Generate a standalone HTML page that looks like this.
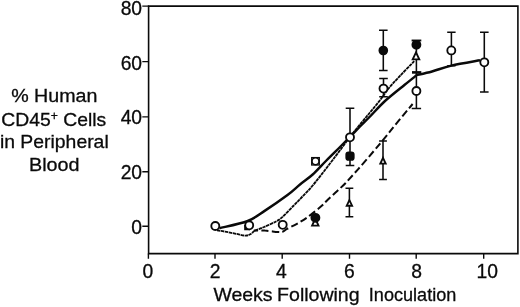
<!DOCTYPE html>
<html><head><meta charset="utf-8">
<style>
html,body{margin:0;padding:0;background:#fff;}
body{width:520px;height:307px;overflow:hidden;font-family:"Liberation Sans",sans-serif;}
svg{display:block;will-change:transform;}
text{font-family:"Liberation Sans",sans-serif;fill:#0a0a0a;stroke:#0a0a0a;stroke-width:0.3px;}
</style></head><body>
<svg width="520" height="307" viewBox="0 0 520 307">
<rect width="520" height="307" fill="#fff"/>
<g stroke="#0a0a0a" stroke-width="1.6" fill="none" stroke-linecap="butt">
<path d="M148.6,6.15 H517.9 V253.6 H148.6 Z"/>
</g>
<g stroke="#0a0a0a" stroke-width="1.4" fill="none" stroke-linecap="butt">
<path d="M142.3,6.15H149 M142.3,61.6H149 M142.3,116.9H149 M142.3,171.7H149 M142.3,226.3H149"/>
<path d="M148.4,253.6V258.7 M215,253.6V258.7 M282.2,253.6V258.7 M349.5,253.6V258.7 M416.2,253.6V258.7 M483.7,253.6V258.7"/>
</g>
<g font-size="19.3" text-anchor="end">
<text x="142.1" y="14.9">80</text>
<text x="142.1" y="69.5">60</text>
<text x="142.1" y="123.8">40</text>
<text x="142.1" y="179">20</text>
<text x="142.1" y="233.9">0</text>
</g>
<g font-size="19.3" text-anchor="middle">
<text x="147.8" y="277.5">0</text>
<text x="215.1" y="277.5">2</text>
<text x="281.3" y="277.5">4</text>
<text x="349.4" y="277.5">6</text>
<text x="416.5" y="277.5">8</text>
<text x="487.3" y="277.5">10</text>
</g>
<g font-size="19">
<text x="213.4" y="301.3" textLength="59.2" lengthAdjust="spacingAndGlyphs">Weeks</text>
<text x="277.1" y="301.3" textLength="82.5" lengthAdjust="spacingAndGlyphs">Following</text>
<text x="368.8" y="301.3" textLength="87.5" lengthAdjust="spacingAndGlyphs">Inoculation</text>
</g>
<g font-size="19" text-anchor="middle">
<text transform="translate(54.3,102.2) scale(1.035,1)">% Human</text>
<text transform="translate(53.8,125.7) scale(1.018,1)">CD45<tspan font-size="12" dy="-6">+</tspan><tspan dy="6"> Cells</tspan></text>
<text transform="translate(54.3,148) scale(1.02,1)">in Peripheral</text>
<text transform="translate(54.3,170.6) scale(1.04,1)">Blood</text>
</g>
<g fill="none" stroke="#0a0a0a" stroke-linejoin="round" stroke-linecap="butt">
<path stroke-width="2.45" d="M219.4,228.2 C224.1,227.0 240.1,223.9 247.7,221.0 C255.3,218.1 258.4,214.9 265.0,210.6 C271.6,206.3 281.7,199.3 287.5,195.0 C293.3,190.7 295.8,187.9 300.0,184.5 C304.2,181.1 308.3,178.5 312.7,174.5 C317.1,170.5 321.8,165.1 326.4,160.5 C330.9,155.9 336.1,150.9 340.0,147.0 C343.9,143.1 346.2,140.7 349.5,137.3 C352.8,133.9 356.6,130.0 360.0,126.5 C363.4,123.0 365.8,120.8 370.0,116.5 C374.2,112.2 379.3,106.2 385.0,101.0 C390.7,95.8 399.1,89.3 404.4,85.0 C409.7,80.7 414.6,76.8 416.6,75.1"/>
<path stroke-width="2.45" d="M416.6,75.1 C419.2,74.5 426.2,73.1 432.0,71.5 C437.8,69.9 443.4,67.5 451.4,65.6 C459.4,63.7 475.2,61.1 480.0,60.2"/>
<path stroke-width="1.85" stroke-dasharray="3.4 0.6" d="M217.0,230.3 C218.3,230.5 221.8,231.0 225.0,231.6 C228.2,232.2 233.0,233.2 236.5,233.9 C240.0,234.6 243.3,235.7 245.8,235.6 C248.3,235.5 250.1,234.4 251.5,233.6 C252.9,232.8 252.4,232.1 254.5,231.0 C256.6,229.9 260.5,228.6 264.2,227.0 C267.9,225.4 273.5,222.8 276.5,221.2 C279.5,219.5 279.4,219.7 282.3,217.1 C285.2,214.5 290.5,208.8 293.8,205.5 C297.1,202.2 299.2,199.9 302.0,197.0 C304.8,194.1 307.7,191.2 310.3,188.3 C312.9,185.4 315.2,182.5 317.6,179.4 C320.1,176.3 322.6,173.2 325.0,170.0 C327.4,166.8 329.8,163.8 332.3,160.5 C334.8,157.2 337.1,154.2 340.0,150.3 C342.9,146.5 346.3,141.7 349.6,137.4 C352.9,133.1 356.6,128.7 360.0,124.5 C363.4,120.3 366.7,116.5 370.0,112.5 C373.3,108.5 376.8,104.3 380.0,100.2 C383.2,96.1 385.7,92.0 389.0,88.0 C392.3,84.0 395.8,80.4 400.0,75.9 C404.2,71.4 411.8,63.7 414.2,61.2"/>
<path stroke-width="2.0" stroke-dasharray="7.2 3.3" stroke-dashoffset="2.95" d="M253.8,230.5 C255.7,230.5 261.0,230.3 265.0,230.6 C269.0,230.8 274.7,231.8 277.7,232.0 C280.7,232.2 281.5,232.1 283.0,231.6 C284.5,231.1 284.5,230.3 286.8,229.0 C289.1,227.7 293.5,225.7 296.9,223.8 C300.2,221.9 303.0,220.4 306.9,217.6 C310.8,214.8 316.8,210.1 320.3,207.1 C323.8,204.1 325.2,202.2 328.0,199.5 C330.8,196.8 334.1,193.9 337.0,191.2 C339.9,188.5 341.9,186.8 345.4,183.2 C348.9,179.5 353.1,174.8 358.0,169.3 C362.9,163.8 370.2,155.3 374.7,150.0 C379.2,144.7 381.6,141.7 385.0,137.6 C388.4,133.5 390.2,131.1 394.8,125.5 C399.4,119.9 409.6,107.6 412.6,104.0"/>
</g>
<g stroke="#0a0a0a" stroke-width="1.55" fill="none">
<path d="M350.0,108.3V137.0 M345.7,108.3H354.3"/>
<path d="M350.0,140.0V165.5 M345.7,165.5H354.3"/>
<path d="M349.4,188.3V216.7 M345.5,188.3H353.3 M345.5,216.7H353.3"/>
<path d="M383.3,30.3V70.4 M379.0,30.3H387.6 M379.0,70.4H387.6"/>
<path d="M383.5,78.5V96.8 M379.2,78.5H387.8 M379.2,96.8H387.8"/>
<path d="M383.0,141.0V179.4 M379.1,141.0H386.9 M379.1,179.4H386.9"/>
<path d="M416.4,40.5V108.5 M411.7,108.5H421.1"/>
<path d="M451.4,32.3V65.7 M447.2,32.3H455.6 M447.2,65.7H455.6"/>
<path d="M484.3,32.3V92.0 M480.0,32.3H488.6 M480.0,92.0H488.6"/>
<path stroke-width="1.9" d="M411.6,40.5H421.3"/>
<path stroke-width="2.6" d="M412,72.4H421.3"/>
</g>
<g stroke="#0a0a0a" stroke-width="1.85">
<path fill="#fff" d="M315.3,218.5 L318.5,225.6 H312.1 Z"/>
<path fill="#fff" d="M349.4,200.1 L352.1,205.7 H346.7 Z"/>
<path fill="#fff" d="M383.0,157.9 L385.7,163.6 H380.3 Z"/>
<path fill="#fff" d="M416.0,52.3 L419.3,59.3 H412.7 Z"/>
<circle cx="315.4" cy="217.8" r="4.0" fill="#0a0a0a"/>
<rect x="346.3" y="152.4" width="7.4" height="7.5" rx="2.2" fill="#0a0a0a"/>
<circle cx="383.3" cy="50.5" r="3.9" fill="#0a0a0a"/>
<circle cx="416.4" cy="44.8" r="4.0" fill="#0a0a0a"/>
<rect x="311.7" y="157.6" width="7.6" height="7.4" fill="#fff" stroke-width="1.3"/>
<circle cx="315.5" cy="161.3" r="3.4" fill="#fff" stroke-width="1.4"/>
<circle cx="215.3" cy="226.0" r="4.0" fill="#fff"/>
<path fill="none" d="M245.1,225V229.4H250"/>
<circle cx="249.2" cy="225.3" r="4.0" fill="#fff"/>
<circle cx="282.7" cy="224.8" r="4.0" fill="#fff"/>
<circle cx="350.0" cy="137.3" r="4.0" fill="#fff"/>
<circle cx="383.5" cy="88.6" r="4.0" fill="#fff"/>
<circle cx="416.4" cy="91.0" r="4.0" fill="#fff"/>
<circle cx="451.3" cy="50.4" r="4.0" fill="#fff"/>
<circle cx="484.3" cy="62.3" r="4.0" fill="#fff"/>
</g>
</svg>
</body></html>
